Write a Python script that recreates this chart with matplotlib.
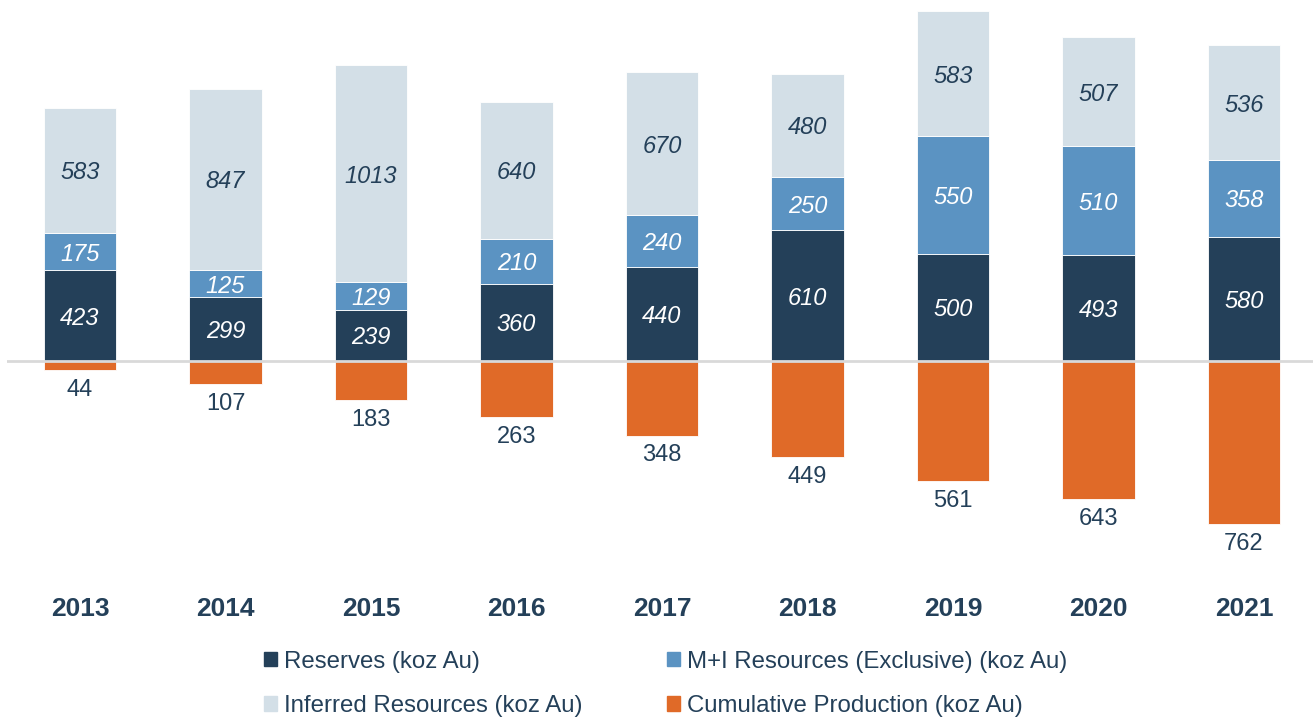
import numpy as np
import matplotlib.pyplot as plt
from matplotlib.patches import Patch

plt.rcParams['font.family'] = ['Liberation Sans', 'DejaVu Sans']

# ______________________________ DATA ______________________________
years = ['2013', '2014', '2015', '2016', '2017', '2018', '2019', '2020', '2021']
reserves = [423, 299, 239, 360, 440, 610, 500, 493, 580]
mi_res = [175, 125, 129, 210, 240, 250, 550, 510, 358]
inferred = [583, 847, 1013, 640, 670, 480, 583, 507, 536]
production = [44, 107, 183, 263, 348, 449, 561, 643, 762]

# ______________________________ STYLE _____________________________
c_res = '#244059'
c_mi = '#5b93c2'
c_inf = '#d3dfe7'
c_prod = '#e06a28'
c_txt = '#244059'

fig = plt.figure(figsize=(13.13, 7.17), dpi=100)
ax = fig.add_axes([7/1313, 1 - 560/717, 1 - 7/1313, 560/717])

x = np.arange(len(years))
w = 0.495
res = np.array(reserves)
mi = np.array(mi_res)
inf = np.array(inferred)
prod = np.array(production)

ax.bar(x, res, w, color=c_res, edgecolor='white', linewidth=0.6, zorder=2)
ax.bar(x, mi, w, bottom=res, color=c_mi, edgecolor='white', linewidth=0.6, zorder=2)
ax.bar(x, inf, w, bottom=res + mi, color=c_inf, edgecolor='white', linewidth=0.6, zorder=2)
ax.bar(x, -prod, w, color=c_prod, edgecolor='white', linewidth=0.6, zorder=2)

ax.axhline(0, color='#d9d9d9', linewidth=2, zorder=3)

fs = 17
for i in range(len(years)):
    ax.text(x[i], res[i] / 2, str(res[i]), ha='center', va='center_baseline',
            color='white', style='italic', fontsize=fs, zorder=4)
    ax.text(x[i], res[i] + mi[i] / 2, str(mi[i]), ha='center', va='center_baseline',
            color='white', style='italic', fontsize=fs, zorder=4)
    ax.text(x[i], res[i] + mi[i] + inf[i] / 2, str(inf[i]), ha='center', va='center_baseline',
            color=c_txt, style='italic', fontsize=fs, zorder=4)
    ax.annotate(str(prod[i]), (x[i], -prod[i]), xytext=(0, -12.5), textcoords='offset points',
                ha='center', va='center_baseline', color=c_txt, fontsize=fs)

ax.set_xlim(-80/145.5 + 7/145.5, 8 + 69/145.5)
ax.set_ylim(-199 * 4.667, 361 * 4.667)
ax.set_xticks(x)
ax.set_xticklabels(years, fontsize=19, fontweight='bold', color=c_txt)
ax.tick_params(axis='x', length=0, pad=27)
ax.set_yticks([])
for s in ax.spines.values():
    s.set_visible(False)

handles = [Patch(color=c_res, label='Reserves (koz Au)'),
           Patch(color=c_inf, label='Inferred Resources (koz Au)'),
           Patch(color=c_mi, label='M+I Resources (Exclusive) (koz Au)'),
           Patch(color=c_prod, label='Cumulative Production (koz Au)')]
leg = fig.legend(handles=handles, ncol=2, loc='lower left', bbox_to_anchor=(242/1313, -0.030),
                 frameon=False, fontsize=17.3, handlelength=0.55, handleheight=0.55,
                 handletextpad=0.3, columnspacing=3.5, labelspacing=0.93)
for t in leg.get_texts():
    t.set_color(c_txt)

fig.savefig('out.png', dpi=100)
